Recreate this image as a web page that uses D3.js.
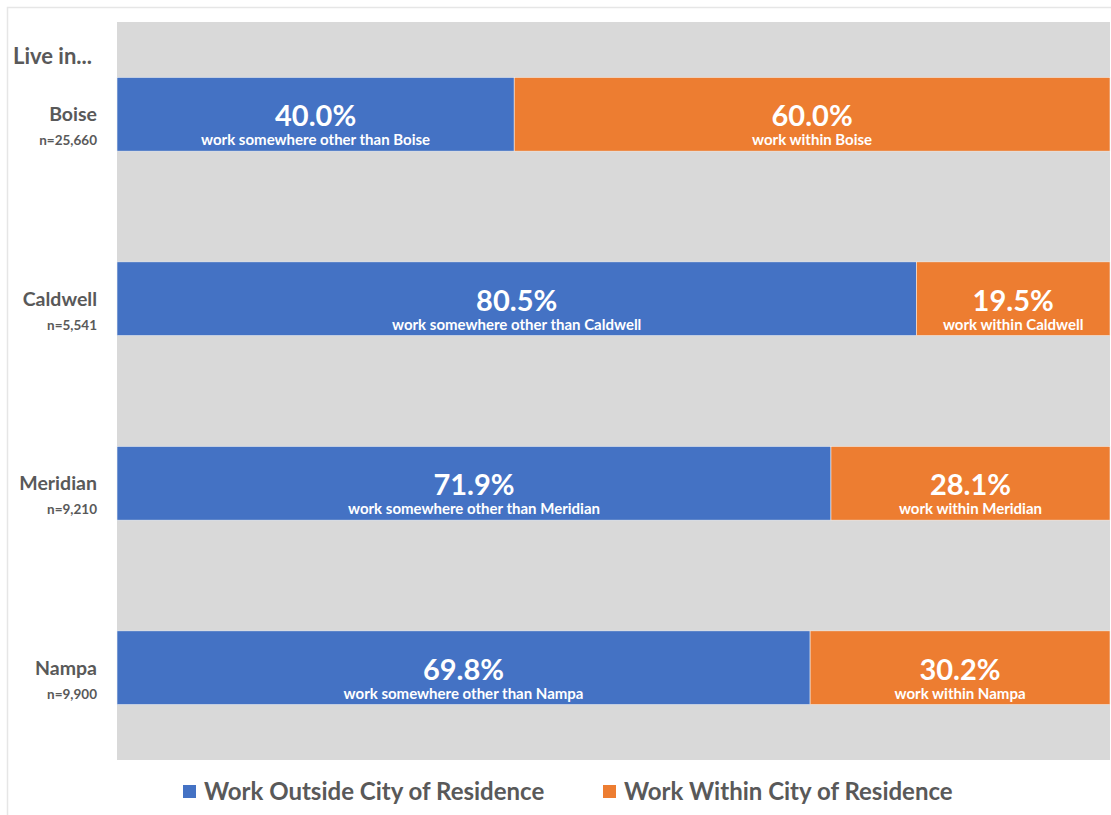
<!DOCTYPE html>
<meta charset="utf-8">
<style>
  body { margin: 0; background: #fff; }
  text { font-family: Lato, "Open Sans", sans-serif; font-weight: bold; }
  .cat { fill: #595959; }
  .val { fill: #fff; text-anchor: middle; }
</style>
<svg width="1111" height="815"></svg>
<script src="https://d3js.org/d3.v7.min.js"></script>
<script>

  var cities = ["Boise", "Caldwell", "Meridian", "Nampa"];
  var counts = ["n=25,660", "n=5,541", "n=9,210", "n=9,900"];
  var outside = [40.0, 80.5, 71.9, 69.8];
  var within = [60.0, 19.5, 28.1, 30.2];
  var seriesNames = ["Work Outside City of Residence", "Work Within City of Residence"];
  var colors = ["#4472c4", "#ed7d31"];

  var svg = d3.select("svg");
  var plot = {left: 117, right: 1110, top: 22, bottom: 760};

  // outer chart border
  svg.append("path")
      .attr("d", "M7.5,815 V7.5 H1111")
      .attr("fill", "none")
      .attr("stroke", "#e6e6e6")
      .attr("stroke-width", 1.5);

  var x = d3.scaleLinear().domain([0, 100]).range([plot.left, plot.right]);
  var y = d3.scaleBand().domain(cities).range([plot.top, plot.bottom])
      .paddingInner(0.6).paddingOuter(0.3);

  svg.append("rect")
      .attr("x", plot.left).attr("y", plot.top)
      .attr("width", plot.right - plot.left).attr("height", plot.bottom - plot.top)
      .attr("fill", "#d9d9d9");

  var rows = cities.map(function(c, i) {
    return {city: c, n: counts[i], parts: [
      {x0: 0, x1: outside[i], s: 0, text: "work somewhere other than " + c},
      {x0: outside[i], x1: outside[i] + within[i], s: 1, text: "work within " + c}
    ]};
  });

  var row = svg.selectAll("g.row").data(rows).enter().append("g").attr("class", "row");

  var seg = row.selectAll("g.seg")
      .data(function(d) { return d.parts.map(function(p) { p.city = d.city; return p; }); })
      .enter().append("g").attr("class", "seg");

  seg.append("rect")
      .attr("x", function(d) { return x(d.x0); })
      .attr("y", function(d) { return y(d.city); })
      .attr("width", function(d) { return x(d.x1) - x(d.x0); })
      .attr("height", y.bandwidth())
      .attr("fill", function(d) { return colors[d.s]; })
      .attr("stroke", "#f2f2f2").attr("stroke-width", 0.6);

  seg.append("text").attr("class", "val")
      .attr("x", function(d) { return (x(d.x0) + x(d.x1)) / 2; })
      .attr("y", function(d) { return y(d.city) + y.bandwidth() / 2 + 12; })
      .style("font-size", "29px")
      .text(function(d) { return (d.x1 - d.x0).toFixed(1) + "%"; });

  seg.append("text").attr("class", "val")
      .attr("x", function(d) { return (x(d.x0) + x(d.x1)) / 2; })
      .attr("y", function(d) { return y(d.city) + y.bandwidth() / 2 + 31; })
      .style("font-size", "15px")
      .text(function(d) { return d.text; });

  row.append("text").attr("class", "cat")
      .attr("x", 97).attr("text-anchor", "end")
      .attr("y", function(d) { return y(d.city) + y.bandwidth() / 2 + 7; })
      .style("font-size", "19.5px")
      .text(function(d) { return d.city; });

  row.append("text").attr("class", "cat")
      .attr("x", 97).attr("text-anchor", "end")
      .attr("y", function(d) { return y(d.city) + y.bandwidth() / 2 + 31; })
      .style("font-size", "13.5px")
      .text(function(d) { return d.n; });

  svg.append("text").attr("class", "cat")
      .attr("x", 13).attr("y", 64)
      .style("font-size", "22px")
      .text("Live in...");

  // legend
  var legX = [183, 603];
  var leg = svg.selectAll("g.leg").data(seriesNames).enter().append("g").attr("class", "leg")
      .attr("transform", function(d, i) { return "translate(" + legX[i] + ",785)"; });
  leg.append("rect").attr("width", 13).attr("height", 13)
      .attr("fill", function(d, i) { return colors[i]; });
  leg.append("text").attr("class", "cat")
      .attr("x", 21).attr("y", 15)
      .style("font-size", "24px")
      .text(function(d) { return d; });

</script>
